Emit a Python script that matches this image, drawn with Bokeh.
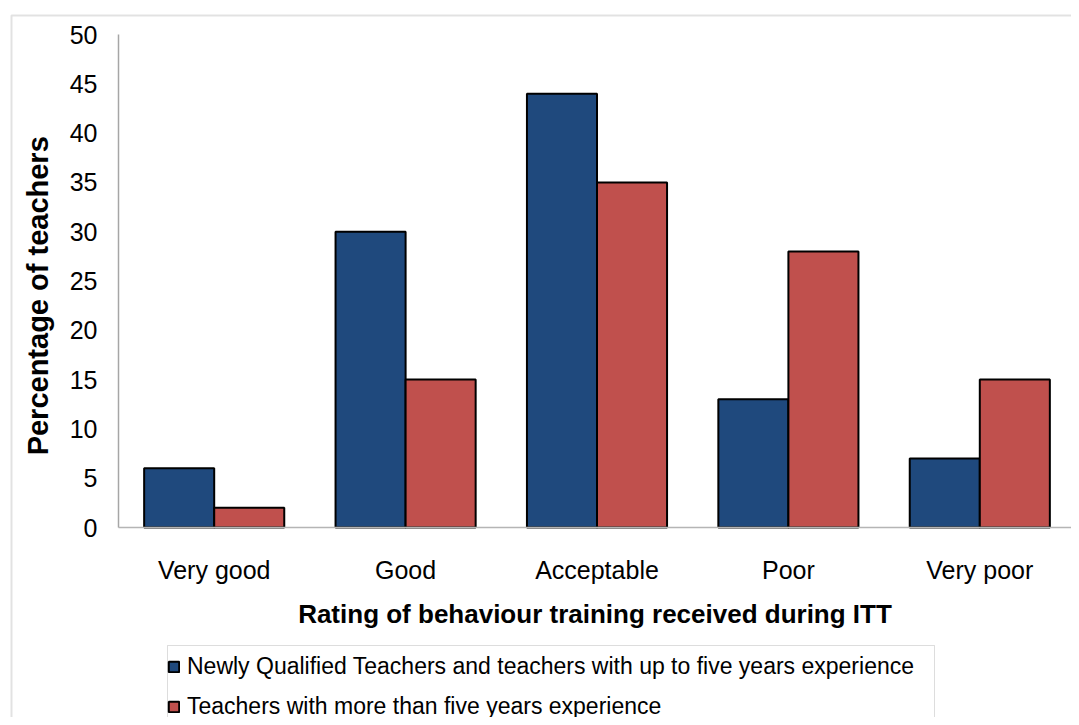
from bokeh.plotting import figure
from bokeh.models import (Range1d, FixedTicker, Legend, LegendItem,
                          BoxAnnotation, Label, ColumnDataSource)
from bokeh.transform import dodge
from bokeh.embed import file_html
from bokeh.resources import INLINE
import math

categories = ["Very good", "Good", "Acceptable", "Poor", "Very poor"]
nqt_values = [6, 30, 44, 13, 7]
experienced_values = [2, 15, 35, 28, 15]
series_names = ["Newly Qualified Teachers and teachers with up to five years experience",
                "Teachers with more than five years experience"]
y_ticks = [0, 5, 10, 15, 20, 25, 30, 35, 40, 45, 50]
x_title = "Rating of behaviour training received during ITT"
y_title = "Percentage of teachers"

BLUE = "#1f497d"
RED = "#c0504d"
FONT = "Liberation Sans"

idx = list(range(len(categories)))
src = ColumnDataSource(dict(idx=idx, cat=categories, nqt=nqt_values, exp=experienced_values))

W, H = 1071, 717
# pixel geometry of the plotting area (axis origin / scale)
X0_PX, CAT_PX = 118.0, 191.4      # left end of category axis, px per category
Y0_PX, Y_PX = 527.0, 9.86         # y of value 0, px per unit
x_start = -0.5 - X0_PX / CAT_PX
x_end = x_start + W / CAT_PX
y_end = Y0_PX / Y_PX
y_start = y_end - H / Y_PX

p = figure(width=W, height=H, x_range=Range1d(x_start, x_end), y_range=Range1d(y_start, y_end),
           output_backend="svg", toolbar_location=None, min_border=0)
p.outline_line_color = None
p.xgrid.grid_line_color = None
p.ygrid.grid_line_color = None
p.background_fill_color = "white"
p.border_fill_color = "white"

r1 = p.vbar(x=dodge("idx", -0.183), top="nqt", width=0.366, source=src,
            fill_color=BLUE, line_color="black", line_width=2)
r2 = p.vbar(x=dodge("idx", 0.183), top="exp", width=0.366, source=src,
            fill_color=RED, line_color="black", line_width=2)

# y axis
p.yaxis.fixed_location = -0.5
p.yaxis.bounds = (y_ticks[0], y_ticks[-1])
p.yaxis.ticker = FixedTicker(ticks=y_ticks)
p.yaxis.major_tick_line_color = None
p.yaxis.minor_tick_line_color = None
p.yaxis.axis_line_color = "#a6a6a6"
p.yaxis.axis_line_width = 1.5
p.yaxis.major_label_text_font = FONT
p.yaxis.major_label_text_font_size = "25px"
p.yaxis.major_label_text_color = "black"
p.yaxis.major_label_standoff = 15

# x axis
p.xaxis.fixed_location = 0
p.xaxis.bounds = (-0.5, len(categories) - 0.5)
p.xaxis.ticker = FixedTicker(ticks=idx)
p.xaxis.major_label_overrides = {i: c for i, c in zip(idx, categories)}
p.xaxis.major_tick_line_color = None
p.xaxis.minor_tick_line_color = None
p.xaxis.axis_line_color = "#b5b5b5"
p.xaxis.axis_line_width = 1.5
p.xaxis.major_label_text_font = FONT
p.xaxis.major_label_text_font_size = "25px"
p.xaxis.major_label_text_color = "black"
p.xaxis.major_label_standoff = 22
p.xaxis.axis_label = x_title
p.xaxis.axis_label_text_font = FONT
p.xaxis.axis_label_text_font_size = "26px"
p.xaxis.axis_label_text_font_style = "bold"
p.xaxis.axis_label_text_color = "black"
p.xaxis.axis_label_standoff = 12

ylab = Label(x=-0.923, y=23.5, text=y_title, angle=math.pi / 2,
             text_align="center", text_baseline="middle", text_font=FONT,
             text_font_size="29px", text_font_style="bold", text_color="black")
p.add_layout(ylab)

# outer chart frame
frame_box = BoxAnnotation(left=11, right=3000, top=15, bottom=3000,
                          left_units="canvas", right_units="canvas",
                          top_units="canvas", bottom_units="canvas",
                          fill_alpha=0, line_color="#a0a0a0", line_width=2)
p.add_layout(frame_box)

# legend box border
leg_box = BoxAnnotation(left=167, right=934, top=645, bottom=3000,
                        left_units="canvas", right_units="canvas",
                        top_units="canvas", bottom_units="canvas",
                        fill_alpha=0, line_color="#909090", line_width=1)
p.add_layout(leg_box)

legend = Legend(items=[LegendItem(label=series_names[0], renderers=[r1]),
                       LegendItem(label=series_names[1], renderers=[r2])],
                location=(167, -4), orientation="vertical",
                border_line_color=None, background_fill_alpha=0,
                padding=16, spacing=10, label_height=30, glyph_height=13, glyph_width=13,
                label_standoff=7, label_text_font=FONT, label_text_font_size="23px",
                label_text_color="black")
p.add_layout(legend, "center")

open("out.html", "w").write(file_html(p, INLINE))
